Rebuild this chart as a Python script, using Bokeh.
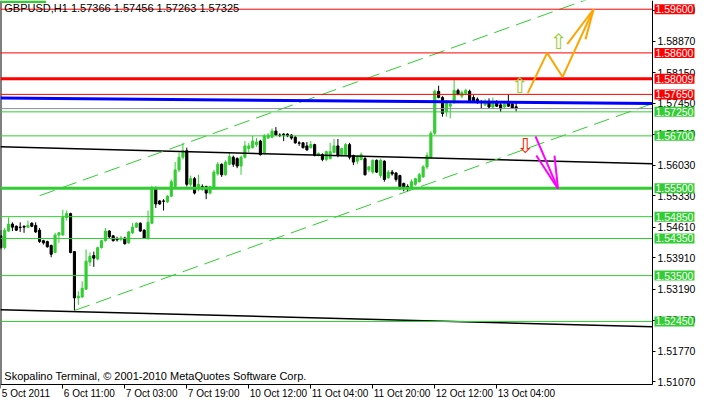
from bokeh.plotting import figure
from bokeh.models import (ColumnDataSource, FixedTicker, PrintfTickFormatter,
                          Label, BoxAnnotation, LinearAxis)
from bokeh.core.properties import value
from bokeh.embed import file_html
from bokeh.resources import INLINE

# ---------------- data ----------------
symbol = "GBPUSD,H1"
time_label_bars = [0, 16, 32, 48, 64, 80, 96, 112, 128]
time_labels = ["5 Oct 2011", "6 Oct 11:00", "7 Oct 03:00", "7 Oct 19:00",
               "10 Oct 12:00", "11 Oct 04:00", "11 Oct 20:00", "12 Oct 12:00",
               "13 Oct 04:00"]

opens = [1.5441, 1.5414, 1.5452, 1.5468, 1.5463, 1.5461, 1.5463, 1.5461, 1.5470, 1.5465,
         1.5454, 1.5430, 1.5428, 1.5419, 1.5403, 1.5443, 1.5443, 1.5483, 1.5492, 1.5405,
         1.5299, 1.5301, 1.5319, 1.5381, 1.5396, 1.5388, 1.5414, 1.5430, 1.5452, 1.5441,
         1.5434, 1.5432, 1.5436, 1.5425, 1.5448, 1.5461, 1.5470, 1.5454, 1.5436, 1.5470,
         1.5550, 1.5521, 1.5521, 1.5519, 1.5532, 1.5554, 1.5592, 1.5621, 1.5636, 1.5559,
         1.5572, 1.5550, 1.5554, 1.5554, 1.5539, 1.5550, 1.5583, 1.5605, 1.5581, 1.5605,
         1.5621, 1.5618, 1.5601, 1.5621, 1.5641, 1.5643, 1.5650, 1.5658, 1.5630, 1.5665,
         1.5667, 1.5681, 1.5672, 1.5674, 1.5674, 1.5672, 1.5667, 1.5654, 1.5654, 1.5647,
         1.5643, 1.5650, 1.5625, 1.5627, 1.5616, 1.5618, 1.5632, 1.5647, 1.5625, 1.5627,
         1.5650, 1.5625, 1.5612, 1.5616, 1.5618, 1.5592, 1.5587, 1.5614, 1.5579, 1.5612,
         1.5574, 1.5587, 1.5585, 1.5579, 1.5561, 1.5554, 1.5552, 1.5559, 1.5565, 1.5576,
         1.5599, 1.5621, 1.5676, 1.5772, 1.5758, 1.5725, 1.5738, 1.5747, 1.5774, 1.5761,
         1.5767, 1.5772, 1.5758, 1.5754, 1.5747, 1.5741, 1.5749, 1.5736, 1.5747, 1.5741,
         1.5736, 1.5747, 1.5743, 1.57366]
highs = [1.5454, 1.5459, 1.5483, 1.5472, 1.5465, 1.5472, 1.5465, 1.5476, 1.5472, 1.5472,
         1.5459, 1.5432, 1.5430, 1.5421, 1.5448, 1.5450, 1.5501, 1.5499, 1.5494, 1.5405,
         1.5314, 1.5337, 1.5410, 1.5403, 1.5405, 1.5416, 1.5432, 1.5459, 1.5454, 1.5443,
         1.5439, 1.5441, 1.5439, 1.5452, 1.5470, 1.5472, 1.5472, 1.5456, 1.5499, 1.5556,
         1.5554, 1.5523, 1.5525, 1.5534, 1.5570, 1.5610, 1.5632, 1.5654, 1.5643, 1.5579,
         1.5576, 1.5581, 1.5559, 1.5556, 1.5556, 1.5592, 1.5610, 1.5607, 1.5614, 1.5632,
         1.5625, 1.5621, 1.5625, 1.5658, 1.5654, 1.5670, 1.5665, 1.5661, 1.5674, 1.5676,
         1.5687, 1.5690, 1.5676, 1.5676, 1.5676, 1.5674, 1.5670, 1.5658, 1.5656, 1.5656,
         1.5658, 1.5652, 1.5632, 1.5630, 1.5636, 1.5654, 1.5663, 1.5663, 1.5643, 1.5654,
         1.5654, 1.5627, 1.5625, 1.5632, 1.5623, 1.5601, 1.5616, 1.5616, 1.5618, 1.5614,
         1.5592, 1.5592, 1.5587, 1.5581, 1.5563, 1.5559, 1.5570, 1.5574, 1.5585, 1.5603,
         1.5632, 1.5681, 1.5776, 1.5785, 1.5761, 1.5752, 1.5749, 1.5798, 1.5778, 1.5774,
         1.5778, 1.5776, 1.5763, 1.5758, 1.5752, 1.5754, 1.5756, 1.5758, 1.5752, 1.5745,
         1.5745, 1.5765, 1.5747, 1.57456]
lows = [1.5410, 1.5410, 1.5450, 1.5452, 1.5452, 1.5450, 1.5448, 1.5459, 1.5461, 1.5448,
        1.5425, 1.5421, 1.5414, 1.5392, 1.5401, 1.5425, 1.5441, 1.5476, 1.5401, 1.5270,
        1.5283, 1.5299, 1.5317, 1.5372, 1.5370, 1.5385, 1.5412, 1.5428, 1.5434, 1.5428,
        1.5428, 1.5430, 1.5421, 1.5423, 1.5445, 1.5459, 1.5450, 1.5434, 1.5432, 1.5468,
        1.5505, 1.5512, 1.5499, 1.5516, 1.5530, 1.5552, 1.5587, 1.5616, 1.5554, 1.5554,
        1.5536, 1.5543, 1.5545, 1.5525, 1.5536, 1.5547, 1.5579, 1.5576, 1.5579, 1.5603,
        1.5599, 1.5596, 1.5581, 1.5618, 1.5632, 1.5641, 1.5645, 1.5625, 1.5627, 1.5663,
        1.5665, 1.5670, 1.5667, 1.5658, 1.5667, 1.5661, 1.5652, 1.5647, 1.5641, 1.5636,
        1.5641, 1.5623, 1.5623, 1.5612, 1.5612, 1.5616, 1.5630, 1.5621, 1.5623, 1.5625,
        1.5616, 1.5603, 1.5605, 1.5614, 1.5579, 1.5587, 1.5583, 1.5585, 1.5574, 1.5565,
        1.5572, 1.5579, 1.5565, 1.5547, 1.5543, 1.5543, 1.5550, 1.5556, 1.5563, 1.5574,
        1.5594, 1.5618, 1.5672, 1.5756, 1.5714, 1.5714, 1.5710, 1.5743, 1.5763, 1.5756,
        1.5765, 1.5747, 1.5745, 1.5743, 1.5732, 1.5738, 1.5734, 1.5732, 1.5736, 1.5725,
        1.5734, 1.5736, 1.5732, 1.57263]
closes = [1.5414, 1.5454, 1.5468, 1.5461, 1.5454, 1.5460, 1.5461, 1.5465, 1.5463, 1.5450,
          1.5428, 1.5425, 1.5416, 1.5399, 1.5443, 1.5448, 1.5483, 1.5492, 1.5403, 1.5299,
          1.5303, 1.5321, 1.5383, 1.5394, 1.5390, 1.5414, 1.5430, 1.5452, 1.5439, 1.5430,
          1.5432, 1.5436, 1.5423, 1.5450, 1.5461, 1.5470, 1.5452, 1.5436, 1.5472, 1.5550,
          1.5514, 1.5514, 1.5520, 1.5532, 1.5565, 1.5592, 1.5621, 1.5636, 1.5559, 1.5572,
          1.5539, 1.5559, 1.5550, 1.5539, 1.5554, 1.5587, 1.5605, 1.5581, 1.5610, 1.5623,
          1.5605, 1.5601, 1.5621, 1.5647, 1.5647, 1.5658, 1.5656, 1.5627, 1.5670, 1.5672,
          1.5681, 1.5672, 1.5671, 1.5672, 1.5670, 1.5665, 1.5654, 1.5653, 1.5643, 1.5638,
          1.5650, 1.5625, 1.5630, 1.5616, 1.5634, 1.5634, 1.5647, 1.5625, 1.5641, 1.5650,
          1.5621, 1.5610, 1.5621, 1.5627, 1.5581, 1.5599, 1.5614, 1.5587, 1.5614, 1.5570,
          1.5587, 1.5583, 1.5570, 1.5554, 1.5552, 1.5552, 1.5565, 1.5572, 1.5581, 1.5599,
          1.5625, 1.5676, 1.5772, 1.5758, 1.5721, 1.5747, 1.5743, 1.5774, 1.5765, 1.5769,
          1.5774, 1.5749, 1.5747, 1.5747, 1.5746, 1.5749, 1.5736, 1.5747, 1.5738, 1.5732,
          1.5743, 1.5738, 1.5734, 1.57325]

price_ticks = [1.5107, 1.5177, 1.5248, 1.5319, 1.5391, 1.5461, 1.5533, 1.5603,
               1.5674, 1.5745, 1.5815, 1.5887, 1.5958]

red_levels = [1.5960, 1.5860, 1.5765]
red_strong_levels = [1.58009]
green_levels = [1.5725, 1.5670, 1.5485, 1.5435, 1.5350, 1.5245]
green_strong_levels = [1.5550]

blue_line_bars = [-0.1, 168.2]
blue_line_prices = [1.57567, 1.57440]
black_upper_bars = [-0.1, 168.2]
black_upper_prices = [1.5645, 1.5606]
black_lower_bars = [-0.1, 168.2]
black_lower_prices = [1.5272, 1.5233]
channel_lower_bars = [19, 168.2]
channel_lower_prices = [1.5270, 1.5744]
channel_upper_bars = [10, 168.2]
channel_upper_prices = [1.5533, 1.6036]

orange_bars = [136, 141, 145, 153]
orange_prices = [1.5768, 1.5860, 1.5805, 1.5960]
orange_barb_bars = [146.2, 150.9]
orange_barb_prices = [1.5880, 1.5891]
magenta_bars = [138, 143.8]
magenta_prices = [1.5669, 1.5549]
magenta_barb_bars = [138.2, 142.9]
magenta_barb_prices = [1.5625, 1.5625]

up_arrow_bars = [134, 144]
up_arrow_prices = [1.5785, 1.5885]
down_arrow_bars = [135.4]
down_arrow_prices = [1.5647]

# ---------------- frame geometry ----------------
FONT = "Liberation Sans"
BULL = "#32CD32"
BEAR = "#000000"
X0, X_AXIS, XR = -0.08, 168.2, 180.07        # left edge, price-axis line, right edge
Y_AXIS, Y1 = 1.51006, 1.5980                 # time-axis line, top edge
YB = 1.50640                                 # bottom edge (room for time labels)

p = figure(width=698, height=400, x_range=(X0, XR), y_range=(YB, Y1),
           output_backend="svg", toolbar_location=None,
           x_axis_location=None, y_axis_location=None,
           min_border=0, outline_line_color=None,
           background_fill_color="white", border_fill_color="white")
p.xgrid.visible = False
p.ygrid.visible = False

# price axis, drawn at the right edge of the chart area
ya = LinearAxis(fixed_location=X_AXIS, bounds=(Y_AXIS, Y1),
                ticker=FixedTicker(ticks=price_ticks),
                formatter=PrintfTickFormatter(format="%.5f"),
                major_tick_out=3, major_tick_in=0, minor_tick_out=0, minor_tick_in=0,
                major_label_standoff=2, major_label_text_font=FONT,
                major_label_text_font_size="10.5px", major_label_text_color="black",
                axis_line_color="black")
p.add_layout(ya, "right")

# time axis line and ticks
xa = LinearAxis(fixed_location=Y_AXIS, bounds=(X0, X_AXIS),
                ticker=FixedTicker(ticks=time_label_bars),
                major_label_overrides={b: "" for b in time_label_bars},
                major_tick_out=4, major_tick_in=0, minor_tick_out=0, minor_tick_in=0,
                axis_line_color="black")
p.add_layout(xa, "below")

# left border
p.segment(x0=[X0], y0=[Y_AXIS], x1=[X0], y1=[Y1], line_color="black", line_width=2)
# small status bar at top-left
p.add_layout(BoxAnnotation(left=X0, right=11.7, top=Y1, bottom=Y1 - 0.0006,
                           fill_color=BULL, fill_alpha=1, line_color=None))

# candles
idx = list(range(len(opens)))
colors = [BULL if c >= o else BEAR for o, c in zip(opens, closes)]
src = ColumnDataSource(dict(x=idx, o=opens, h=highs, l=lows, c=closes,
                            top=[max(o, c) for o, c in zip(opens, closes)],
                            bottom=[min(o, c) for o, c in zip(opens, closes)],
                            color=colors))
p.segment(x0="x", y0="l", x1="x", y1="h", line_color="color", line_width=1, source=src)
p.vbar(x="x", top="top", bottom="bottom", width=0.55, fill_color="color",
       line_color="color", line_width=1, source=src)

# sloped lines
p.line(black_upper_bars, black_upper_prices, line_color="black", line_width=1.5)
p.line(black_lower_bars, black_lower_prices, line_color="black", line_width=1.5)
p.line(channel_lower_bars, channel_lower_prices, line_color=BULL, line_width=1,
       line_dash="16 7")
p.line(channel_upper_bars, channel_upper_prices, line_color=BULL, line_width=1,
       line_dash="16 7")


def hlines(levels, color, width):
    n = len(levels)
    p.segment(x0=[X0] * n, x1=[X_AXIS] * n, y0=levels, y1=levels,
              line_color=color, line_width=width)


hlines(red_levels, "#FF0000", 1)
hlines(red_strong_levels, "#FF0000", 3)
hlines(green_levels, BULL, 1)
hlines(green_strong_levels, BULL, 3)
hlines([closes[-1]], "#8A8F9C", 1)
p.line(blue_line_bars, blue_line_prices, line_color="#0000FF", line_width=3)

# forecast arrows
p.line(orange_bars, orange_prices, line_color="#FFA500", line_width=2)
p.segment(x0=[orange_bars[-1]] * 2, y0=[orange_prices[-1]] * 2,
          x1=orange_barb_bars, y1=orange_barb_prices, line_color="#FFA500", line_width=2)
p.line(magenta_bars, magenta_prices, line_color="#FF00FF", line_width=2)
p.segment(x0=[magenta_bars[-1]] * 2, y0=[magenta_prices[-1]] * 2,
          x1=magenta_barb_bars, y1=magenta_barb_prices, line_color="#FF00FF", line_width=2)

p.text(x=up_arrow_bars, y=up_arrow_prices, text=["\u21e7"] * len(up_arrow_bars),
       text_font=value("DejaVu Sans"), text_font_size="21px", text_color="#9ACD32",
       text_align="center", text_baseline="middle")
p.text(x=down_arrow_bars, y=down_arrow_prices, text=["\u21e9"] * len(down_arrow_bars),
       text_font=value("DejaVu Sans"), text_font_size="21px", text_color="#FF2000",
       text_align="center", text_baseline="middle")

# title and copyright
title_txt = "%s  %.5f %.5f %.5f %.5f" % (symbol, opens[-1], highs[-1], lows[-1], closes[-1])
p.add_layout(Label(x=0.9, y=1.59628, text=title_txt, text_font=FONT,
                   text_font_size="11px", text_color="black", text_baseline="middle"))
p.add_layout(Label(x=0.9, y=1.51212,
                   text="Skopalino Terminal, \u00a9 2001-2010 MetaQuotes Software Corp.",
                   text_font=FONT, text_font_size="11px", text_color="black",
                   text_baseline="middle"))

# time labels (left aligned at their tick)
for b, t in zip(time_label_bars, time_labels):
    p.add_layout(Label(x=b, y=Y_AXIS, y_offset=-3, x_offset=1, text=t, text_font=FONT,
                       text_font_size="10px", text_color="black",
                       text_align="left", text_baseline="top"))

# price level tags on the price axis
for lv in red_levels + red_strong_levels:
    p.add_layout(Label(x=X_AXIS, y=lv, x_offset=2, text="%.5f" % lv, text_font=FONT,
                       text_font_size="10.5px", text_color="white", text_align="left",
                       text_baseline="middle", background_fill_color="#FF0000",
                       padding=1))
for lv in green_levels + green_strong_levels:
    p.add_layout(Label(x=X_AXIS, y=lv, x_offset=2, text="%.5f" % lv, text_font=FONT,
                       text_font_size="10.5px", text_color="white", text_align="left",
                       text_baseline="middle", background_fill_color=BULL,
                       padding=1))

open("out.html", "w").write(file_html(p, INLINE))
